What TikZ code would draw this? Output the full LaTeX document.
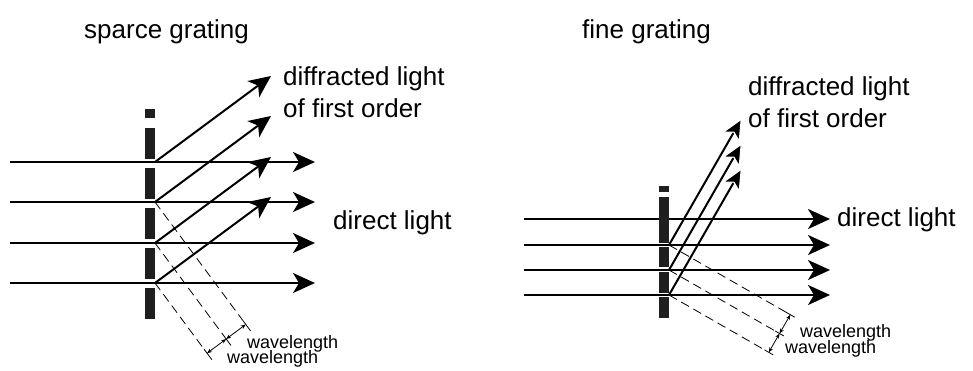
\documentclass[tikz,border=0pt]{standalone}
\usepackage{fontspec}
\setmainfont{Liberation Sans}
\usetikzlibrary{arrows.meta,calc}
\begin{document}
\begin{tikzpicture}[x=1bp,y=-1bp,
  ray/.style={line width=2bp, -{Stealth[length=22bp,width=20bp,inset=6bp]}},
  rayw/.style={line width=2bp, -{Stealth[length=23bp,width=21bp,inset=6bp,color=white,fill=black,line width=1.2bp]}},
  bar/.style={fill=black!88},
  wave/.style={line width=0.8bp, dash pattern=on 9bp off 5bp},
  ext/.style={line width=0.8bp},
  dim/.style={line width=0.8bp, {Stealth[length=5bp,width=4bp]}-{Stealth[length=5bp,width=4bp]}},
  lab/.style={anchor=base west, inner sep=0pt, font=\fontsize{26bp}{30bp}\selectfont},
  small/.style={anchor=base west, inner sep=0pt, font=\fontsize{18bp}{20bp}\selectfont}]
\useasboundingbox (0,0) rectangle (973,370);

% ---------- left: sparce grating ----------
\foreach \i/\y in {1/162,2/202,3/243,4/283} {
  \coordinate (Lin\i) at (10,\y);
  \coordinate (Ls\i) at (155,\y);
  \coordinate (Lout\i) at (315,\y);
  \coordinate (Ldf\i) at ($(Ls\i)+(116,-86)$);
}
\foreach \i in {1,2,3,4} {
  \draw[ray] (Lin\i) -- (Lout\i);
  \draw[ray] (Ls\i) -- (Ldf\i);
}
\foreach \a/\b in {109/118,128/159,168/199,208/239,248/279,288/319}
  \fill[bar] (145,\a) rectangle (155,\b);

% wavefront lines (perpendicular to diffracted direction)
\foreach \i/\t in {2/152.4,3/119.5,4/87.4} {
  \coordinate (Lw\i) at ($(Ls\i)+\t*(0.5956,0.8033)$);
  \coordinate (Lwa\i) at ($(Ls\i)+\t*(0.5956,0.8033)-5*(0.5956,0.8033)$);
  \coordinate (Lwb\i) at ($(Ls\i)+\t*(0.5956,0.8033)+8*(0.5956,0.8033)$);
  \draw[wave] (Ls\i) -- (Lwa\i);
  \draw[ext] (Lwa\i) -- (Lwb\i);
}
\draw[dim] (Lw2) -- (Lw3);
\draw[dim] (Lw3) -- (Lw4);

% ---------- right: fine grating ----------
\foreach \i/\y in {1/219,2/245,3/270,4/295} {
  \coordinate (Rin\i) at (524,\y);
  \coordinate (Rs\i) at (669,\y);
  \coordinate (Rout\i) at (830,\y);
}
\foreach \i in {1,2,3,4}
  \draw[ray] (Rin\i) -- (Rout\i);
\foreach \i in {2,3,4} {
  \coordinate (Rdf\i) at ($(Rs\i)+(73,-127)$);
  \draw[rayw] (Rs\i) -- (Rdf\i);
}
\foreach \a/\b in {186/192,197/243,247/267,272/293,297/318}
  \fill[bar] (659,\a) rectangle (669,\b);

\foreach \i/\t in {2/140,3/127.5,4/115.1} {
  \coordinate (Rw\i) at ($(Rs\i)+\t*(0.867,0.498)$);
  \coordinate (Rwa\i) at ($(Rs\i)+\t*(0.867,0.498)-5*(0.867,0.498)$);
  \coordinate (Rwb\i) at ($(Rs\i)+\t*(0.867,0.498)+5*(0.867,0.498)$);
  \draw[wave] (Rs\i) -- (Rwa\i);
  \draw[ext] (Rwa\i) -- (Rwb\i);
}
\draw[dim] (Rw2) -- (Rw3);
\draw[dim] (Rw3) -- (Rw4);

% ---------- labels ----------
\node[lab] (titleL) at (84,38) {sparce grating};
\node[lab] (titleR) at (582,38) {fine grating};
\node[lab] (dfL1) at (283,85) {diffracted light};
\node[lab] (dfL2) at (283,117) {of first order};
\node[lab] (dfR1) at (748,95) {diffracted light};
\node[lab] (dfR2) at (748,127) {of first order};
\node[lab] (dirL) at (333,229) {direct light};
\node[lab] (dirR) at (837,226) {direct light};
\node[small] (wlL1) at (247,348) {wavelength};
\node[small] (wlL2) at (227,363) {wavelength};
\node[small] (wlR1) at (800,337) {wavelength};
\node[small] (wlR2) at (785,353) {wavelength};
\end{tikzpicture}
\end{document}
